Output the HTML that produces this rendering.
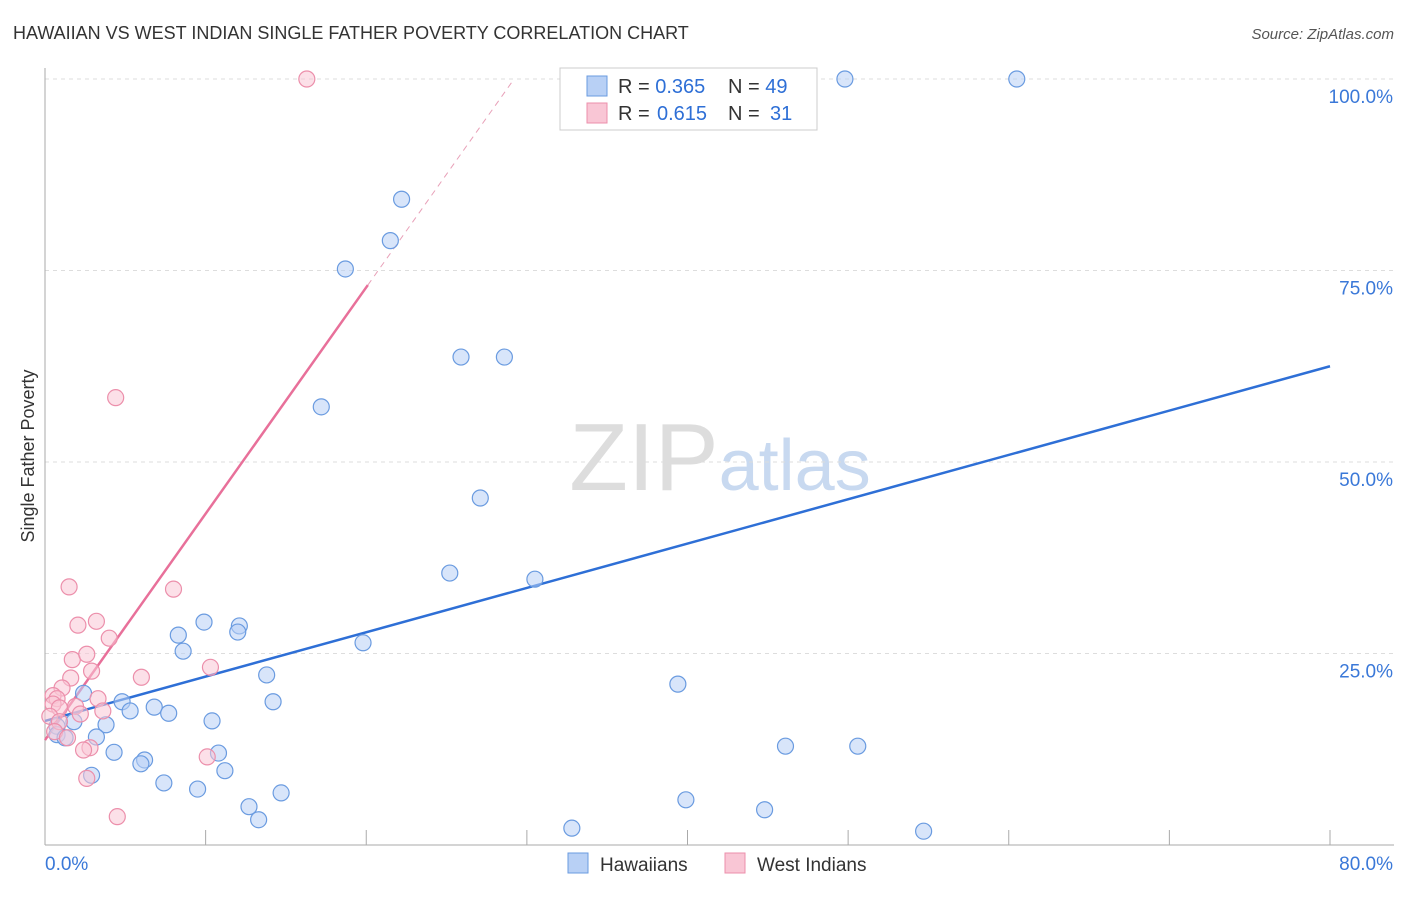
<!DOCTYPE html>
<html><head><meta charset="utf-8"><style>
body{margin:0;background:#fff;font-family:"Liberation Sans",sans-serif}
svg text{font-family:"Liberation Sans",sans-serif}
</style></head><body>
<svg id="chart" width="1406" height="892" xmlns="http://www.w3.org/2000/svg">
<text x="13" y="39" font-size="18" fill="#333">HAWAIIAN VS WEST INDIAN SINGLE FATHER POVERTY CORRELATION CHART</text>
<text x="1394" y="39" font-size="15" fill="#555" text-anchor="end" font-style="italic">Source: ZipAtlas.com</text>
<text x="720" y="490" font-size="96" text-anchor="middle" fill="#ddd" font-family="Liberation Serif">ZIP<tspan fill="#c8d9f0" font-family="Liberation Sans" font-size="72">atlas</tspan></text>
<g id="grid"></g>
<g id="axes"></g>
<g id="trends"></g>
<g id="points"></g>
<text transform="translate(34,456) rotate(-90)" font-size="18" fill="#333" text-anchor="middle">Single Father Poverty</text>
<g>
<rect x="560" y="68" width="257" height="62" fill="#fff" stroke="#ccc"/>
<rect x="587" y="76" width="20" height="20" fill="#b8d0f5" stroke="#6a9be0"/>
<rect x="587" y="103" width="20" height="20" fill="#f9c6d5" stroke="#ec8fab"/>
<text x="618" y="93" font-size="20" fill="#333">R = <tspan fill="#2e6fd6">0.365</tspan><tspan x="728">N = </tspan><tspan fill="#2e6fd6">49</tspan></text>
<text x="618" y="120" font-size="20" fill="#333">R = <tspan fill="#2e6fd6" x="657">0.615</tspan><tspan x="728">N = </tspan><tspan fill="#2e6fd6" x="770">31</tspan></text>
</g>
<g>
<rect x="568" y="853" width="20" height="20" fill="#b8d0f5" stroke="#6a9be0"/>
<text x="600" y="871" font-size="19" fill="#333">Hawaiians</text>
<rect x="725" y="853" width="20" height="20" fill="#f9c6d5" stroke="#ec8fab"/>
<text x="757" y="871" font-size="19" fill="#333">West Indians</text>
</g>
</svg>
<script>
const hawX=[49.8,60.5,22.2,21.5,18.7,25.9,28.6,17.2,27.1,25.2,30.5,19.8,9.9,12.1,12.0,8.3,8.6,13.8,39.4,2.4,4.8,14.2,5.3,6.8,7.7,10.4,1.8,3.8,0.75,0.75,1.25,3.2,4.3,10.8,6.2,5.97,46.1,50.6,11.2,2.9,7.4,9.5,14.7,12.7,39.9,13.3,44.8,32.8,54.7];
const hawY=[100,100,84.3,78.9,75.2,63.7,63.7,57.2,45.3,35.5,34.7,26.4,29.1,28.6,27.8,27.4,25.3,22.2,21.0,19.8,18.7,18.7,17.5,18.0,17.2,16.2,16.1,15.7,15.5,14.4,14.0,14.1,12.1,12.0,11.1,10.6,12.9,12.9,9.7,9.1,8.1,7.3,6.8,5.0,5.9,3.3,4.6,2.2,1.8];
const wiX=[16.3,4.4,1.5,8.0,2.05,3.2,4.0,1.7,2.6,10.3,2.9,6.0,1.6,1.06,0.5,0.75,3.3,0.5,0.9,1.9,3.6,2.2,0.3,0.9,0.6,1.4,2.8,2.4,10.1,2.6,4.5];
const wiY=[100,58.4,33.7,33.4,28.7,29.2,27.0,24.2,24.9,23.2,22.7,21.9,21.8,20.5,19.5,19.1,19.1,18.4,17.9,18.1,17.5,17.1,16.8,16.1,14.8,14.0,12.7,12.4,11.5,8.7,3.7];
const yTicks=[25,50,75,100];
const yTickLabels=["25.0%","50.0%","75.0%","100.0%"];
const xTicks=[0,10,20,30,40,50,60,70,80];
const hawTrend=[16.2,62.5];
const wiTrend=[13.7,2.955];
const X=v=>45+v*1285/80, Y=v=>845-v*7.66;
const NS="http://www.w3.org/2000/svg";
function mk(tag,attrs,parent){const e=document.createElementNS(NS,tag);for(const k in attrs)e.setAttribute(k,attrs[k]);document.getElementById(parent).appendChild(e);return e;}
yTicks.forEach((t,i)=>{
 const l=mk('line',{x1:45,x2:1394,y1:Y(t),y2:Y(t),stroke:'#ddd','stroke-dasharray':'4,4'},'grid');
 
 
 const tx=mk('text',{x:1393,y:Y(t)+24,'font-size':19,fill:'#3a78d8','text-anchor':'end'},'grid');
 tx.textContent=yTickLabels[i];
 
 
});
const ax=mk('line',{x1:45,x2:45,y1:68,y2:845,stroke:'#aaa'},'axes');


const bx=mk('line',{x1:45,x2:1394,y1:845,y2:845,stroke:'#aaa'},'axes');


xTicks.forEach(t=>{const l=mk('line',{x1:X(t),x2:X(t),y1:830,y2:845,stroke:'#aaa'},'axes');
 
 });
let t0=mk('text',{x:45,y:870,'font-size':19,fill:'#3a78d8'},'axes');t0.textContent='0.0%';


let t1=mk('text',{x:1393,y:870,'font-size':19,fill:'#3a78d8','text-anchor':'end'},'axes');t1.textContent='80.0%';


function circles(xs,ys,fill,stroke,name){xs.forEach((x,i)=>{const c=mk('circle',{cx:X(x),cy:Y(ys[i]),r:8,fill:fill,'fill-opacity':0.55,stroke:stroke,'stroke-width':1.2},'points');
 
 });}
circles(hawX,hawY,'#b8d0f5','#6a9be0','hawaiian-point');
circles(wiX,wiY,'#f9c6d5','#ec8fab','west-indian-point');
const hl=mk('line',{x1:X(0),y1:Y(hawTrend[0]),x2:X(80),y2:Y(hawTrend[1]),stroke:'#2e6fd6','stroke-width':2.5},'trends');


const xe=20.1, xd=(100-wiTrend[0])/wiTrend[1];
const pl=mk('line',{x1:X(0),y1:Y(wiTrend[0]),x2:X(xe),y2:Y(wiTrend[0]+wiTrend[1]*xe),stroke:'#e8709a','stroke-width':2.5},'trends');


const pd=mk('line',{x1:X(xe),y1:Y(wiTrend[0]+wiTrend[1]*xe),x2:X(xd),y2:Y(100),stroke:'#e8a0b8','stroke-width':1,'stroke-dasharray':'6,5'},'trends');


</script>
</body></html>
